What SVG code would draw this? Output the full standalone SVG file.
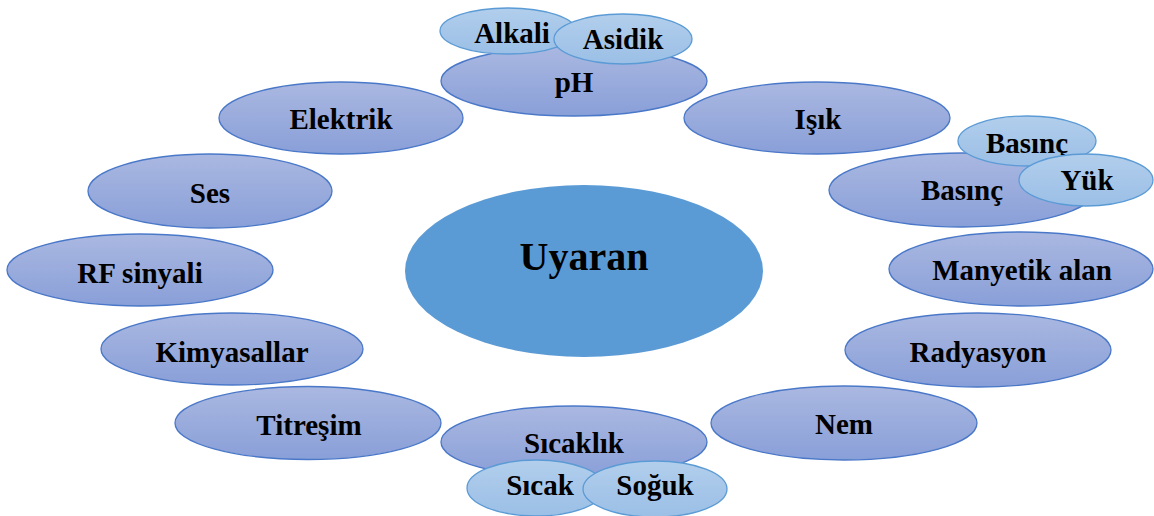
<svg xmlns="http://www.w3.org/2000/svg" width="1154" height="516" viewBox="0 0 1154 516">
<defs>
<linearGradient id="gOuter" x1="0" y1="0" x2="0" y2="1">
<stop offset="0" stop-color="#aab8e1"/>
<stop offset="1" stop-color="#899fd8"/>
</linearGradient>
<linearGradient id="gSmall" x1="0" y1="0" x2="0" y2="1">
<stop offset="0" stop-color="#b2ceec"/>
<stop offset="1" stop-color="#9bbfe6"/>
</linearGradient>
<style>
.outer{fill:url(#gOuter);stroke:#4a78c8;stroke-width:1.3}
.small{fill:url(#gSmall);stroke:#5b9bd5;stroke-width:1.3}
.center{fill:#5b9bd5}
text{font-family:"Liberation Serif","Times New Roman",serif;font-weight:bold;fill:#000;text-anchor:middle}
.lbl{font-size:29px}
.big{font-size:40px}
</style>
</defs>
<rect width="1154" height="516" fill="#ffffff"/>
<g id="connectors"/>
<g id="uyaran"><ellipse class="center" cx="584" cy="271" rx="179" ry="86"/><text class="big" x="584" y="270">Uyaran</text></g>
<g id="ph"><ellipse class="outer" cx="574" cy="81" rx="133" ry="35"/><text class="lbl" x="574" y="92">pH</text></g>
<g id="alkali"><ellipse class="small" cx="508" cy="31" rx="68" ry="23"/><text class="lbl" x="512" y="43">Alkali</text></g>
<g id="asidik"><ellipse class="small" cx="623" cy="39" rx="69" ry="25"/><text class="lbl" x="623" y="49">Asidik</text></g>
<g id="elektrik"><ellipse class="outer" cx="341" cy="118" rx="122" ry="36"/><text class="lbl" x="341" y="129">Elektrik</text></g>
<g id="isik"><ellipse class="outer" cx="817" cy="118" rx="133" ry="36"/><text class="lbl" x="818" y="129">Işık</text></g>
<g id="ses"><ellipse class="outer" cx="210" cy="191" rx="122" ry="37"/><text class="lbl" x="210" y="203">Ses</text></g>
<g id="basinc"><ellipse class="outer" cx="962" cy="190" rx="133" ry="37"/><text class="lbl" x="962" y="200">Basınç</text></g>
<g id="basinc-alt"><ellipse class="small" cx="1027" cy="141" rx="69" ry="25"/><text class="lbl" x="1027" y="153">Basınç</text></g>
<g id="yuk"><ellipse class="small" cx="1086" cy="180" rx="67" ry="26"/><text class="lbl" x="1087" y="190">Yük</text></g>
<g id="rf"><ellipse class="outer" cx="140" cy="270" rx="133" ry="36"/><text class="lbl" x="140" y="283">RF sinyali</text></g>
<g id="manyetik"><ellipse class="outer" cx="1021" cy="269" rx="132" ry="37"/><text class="lbl" x="1022" y="280">Manyetik alan</text></g>
<g id="kimyasallar"><ellipse class="outer" cx="232" cy="349" rx="131" ry="36"/><text class="lbl" x="232" y="362">Kimyasallar</text></g>
<g id="radyasyon"><ellipse class="outer" cx="978" cy="350" rx="133" ry="37"/><text class="lbl" x="978" y="362">Radyasyon</text></g>
<g id="titresim"><ellipse class="outer" cx="308" cy="423" rx="133" ry="36.5"/><text class="lbl" x="309" y="435">Titreşim</text></g>
<g id="nem"><ellipse class="outer" cx="844" cy="423" rx="133" ry="37"/><text class="lbl" x="844" y="434">Nem</text></g>
<g id="sicaklik"><ellipse class="outer" cx="574" cy="442" rx="133" ry="36"/><text class="lbl" x="574" y="453">Sıcaklık</text></g>
<g id="sicak"><ellipse class="small" cx="536" cy="488" rx="69" ry="28"/><text class="lbl" x="540" y="495">Sıcak</text></g>
<g id="soguk"><ellipse class="small" cx="655" cy="489" rx="72" ry="28"/><text class="lbl" x="655" y="495">Soğuk</text></g>
</svg>
